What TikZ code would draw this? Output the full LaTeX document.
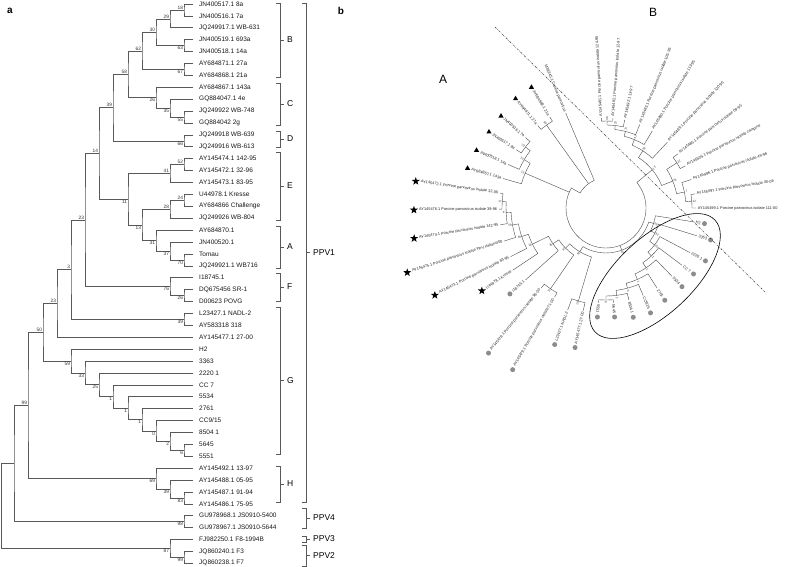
\documentclass[tikz,border=0pt]{standalone}
\usepackage{fontspec}
\setmainfont{Liberation Sans}
\usetikzlibrary{calc,shapes.geometric}
% panel a helpers
\newcommand\pleaf[3]{\coordinate (l#1) at (193,-#2);\node[leaf] (t#1) at (199,-#2) {#3};}
\newcommand\pjn[3]{\draw[tr] (#2) -| (#1) |- (#3);}
\newcommand\pba[2]{\node[bs,anchor=south east] (b#1) at ([xshift=-0.6pt,yshift=0.4pt]#1) {#2};}
\newcommand\pbb[2]{\node[bs,anchor=north east] (b#1) at ([xshift=-0.6pt,yshift=-0.4pt]#1) {#2};}
\newcommand\pcl[5]{\pgfmathsetmacro\pym{-(#3+#4)/2}%
  \draw[brk] (#2-4,-#3) -- (#2,-#3) -- (#2,-#4) -- (#2-4,-#4);
  \draw[brk] (#2,\pym) -- (#2+4,\pym);
  \node[clade] (#1) at (#2+7,\pym) {#5};}
% panel b helpers
\newcommand\ptn[5]{\draw[tb] ($(O)+(#2:#3)$) -- ($(O)+(#2:#1)$) arc[start angle=#2,end angle=#4,radius=#1] -- ($(O)+(#4:#5)$);}
\newcommand\pRL[4]{\node[bl,rotate=#2,anchor=west] (#1) at ($(O)+(#2:#3)$) {#4};}
\newcommand\pLL[4]{\node[bl,rotate=#2-180,anchor=east] (#1) at ($(O)+(#2:#3)$) {#4};}
\newcommand\pMR[4]{\node[#4] (m#1) at ($(#1.east)+(#2:#3)$) {};}
\newcommand\pML[4]{\node[#4] (m#1) at ($(#1.west)+(#2:#3)$) {};}
\newcommand\pbr[4]{\node[bb,rotate=#2] (#1) at ($(O)+(#2:#3)$) {#4};}
\newcommand\pbl[4]{\node[bb,rotate=#2-180] (#1) at ($(O)+(#2:#3)$) {#4};}
\begin{document}
\begin{tikzpicture}[x=1pt,y=1pt,
 tr/.style={draw=black!65,line width=0.6pt},
 leaf/.style={font=\fontsize{6.5}{7}\selectfont,inner sep=0pt,anchor=west,text=black!90},
 bs/.style={font=\fontsize{4.8}{5}\selectfont,inner sep=0.2pt,text=black!80},
 brk/.style={draw=black!65,line width=0.55pt},
 clade/.style={font=\fontsize{8.5}{9}\selectfont,inner sep=0pt,anchor=west},
 tb/.style={draw=black!70,line width=0.4pt},
 bl/.style={font=\fontsize{3.9}{4}\selectfont,inner sep=0.2pt,text=black!85},
 bb/.style={font=\fontsize{3}{3}\selectfont,inner sep=0pt,text=black!80},
 tri/.style={regular polygon,regular polygon sides=3,fill=black,inner sep=0pt,minimum size=6pt},
 starm/.style={star,star points=5,star point ratio=2.5,fill=black,inner sep=0pt,minimum size=8.5pt},
 dotm/.style={circle,fill=black!45,inner sep=0pt,minimum size=5pt},
 dd/.style={draw=black!80,line width=0.45pt,dash pattern=on 2.2pt off 1.2pt on 0.5pt off 1.2pt}]
\fill[white] (0,0) rectangle (787,-567);
\useasboundingbox (0,0) rectangle (787,-567);

% ================= panel a =================
\node[font=\bfseries\fontsize{10}{10}\selectfont,inner sep=0pt] (lbla) at (10,-11) {a};
\pleaf{1}{4.0}{JN400517.1 8a}
\pleaf{2}{15.9}{JN400516.1 7a}
\pleaf{3}{27.8}{JQ249917.1 WB-631}
\pleaf{4}{39.7}{JN400519.1 693a}
\pleaf{5}{51.6}{JN400518.1 14a}
\pleaf{6}{63.5}{AY684871.1 27a}
\pleaf{7}{75.4}{AY684868.1 21a}
\pleaf{8}{87.3}{AY684867.1 143a}
\pleaf{9}{99.2}{GQ884047.1 4e}
\pleaf{10}{111.1}{JQ249922 WB-748}
\pleaf{11}{123.0}{GQ884042 2g}
\pleaf{12}{134.9}{JQ249918 WB-639}
\pleaf{13}{146.8}{JQ249916 WB-613}
\pleaf{14}{158.7}{AY145474.1 142-95}
\pleaf{15}{170.6}{AY145472.1 32-96}
\pleaf{16}{182.5}{AY145473.1 83-95}
\pleaf{17}{194.4}{U44978.1 Kresse}
\pleaf{18}{206.3}{AY684866 Challenge}
\pleaf{19}{218.2}{JQ249926 WB-804}
\pleaf{20}{230.1}{AY684870.1}
\pleaf{21}{242.0}{JN400520.1}
\pleaf{22}{253.9}{Tomau}
\pleaf{23}{265.8}{JQ249921.1 WB716}
\pleaf{24}{277.7}{I18745.1}
\pleaf{25}{289.6}{DQ675456 SR-1}
\pleaf{26}{301.5}{D00623 POVG}
\pleaf{27}{313.4}{L23427.1 NADL-2}
\pleaf{28}{325.3}{AY583318 318}
\pleaf{29}{337.2}{AY145477.1 27-00}
\pleaf{30}{349.1}{H2}
\pleaf{31}{361.0}{3363}
\pleaf{32}{372.9}{2220 1}
\pleaf{33}{384.8}{CC 7}
\pleaf{34}{396.7}{5534}
\pleaf{35}{408.6}{2761}
\pleaf{36}{420.5}{CC9/15}
\pleaf{37}{432.4}{8504 1}
\pleaf{38}{444.3}{5645}
\pleaf{39}{456.2}{5551}
\pleaf{40}{468.1}{AY145492.1 13-97}
\pleaf{41}{480.0}{AY145488.1 05-95}
\pleaf{42}{491.9}{AY145487.1 91-94}
\pleaf{43}{503.8}{AY145486.1 75-95}
\pleaf{44}{515.7}{GU978968.1 JS0910-5400}
\pleaf{45}{527.6}{GU978967.1 JS0910-5644}
\pleaf{46}{539.5}{FJ982250.1 F8-1994B}
\pleaf{47}{551.4}{JQ860240.1 F3}
\pleaf{48}{563.3}{JQ860238.1 F7}

\coordinate (A1) at (184,-9.95);
\coordinate (A2) at (170,-18.88);
\coordinate (A4) at (184,-45.65);
\coordinate (A3) at (156,-32.26);
\coordinate (A6) at (184,-69.45);
\coordinate (A5) at (142,-50.86);
\coordinate (C2) at (184,-117.05);
\coordinate (C1) at (170,-108.13);
\coordinate (C0) at (156,-97.71);
\coordinate (A7) at (128,-74.28);
\coordinate (D0) at (184,-140.85);
\coordinate (A8) at (113,-107.57);
\coordinate (E1) at (184,-164.65);
\coordinate (E0) at (170,-173.58);
\coordinate (E3) at (184,-200.35);
\coordinate (E2) at (170,-209.28);
\coordinate (Q2) at (184,-259.85);
\coordinate (Q1) at (170,-250.93);
\coordinate (Q0) at (156,-240.51);
\coordinate (N13) at (142,-224.90);
\coordinate (N11) at (128,-199.24);
\coordinate (A9) at (99,-153.41);
\coordinate (F1) at (184,-295.55);
\coordinate (F0) at (170,-286.63);
\coordinate (B23) at (85,-220.02);
\coordinate (NA) at (184,-319.35);
\coordinate (N3) at (71,-269.69);
\coordinate (N23) at (57,-303.45);
\coordinate (G8) at (184,-450.25);
\coordinate (G7) at (170,-441.33);
\coordinate (G6) at (156,-430.91);
\coordinate (G5) at (142,-419.76);
\coordinate (G4) at (128,-408.23);
\coordinate (G3) at (113,-396.52);
\coordinate (G2) at (99,-384.71);
\coordinate (G1) at (85,-372.86);
\coordinate (G0) at (71,-360.98);
\coordinate (N50) at (43,-332.22);
\coordinate (Hn2) at (184,-497.85);
\coordinate (H1) at (170,-488.93);
\coordinate (H0) at (156,-478.51);
\coordinate (N99) at (28,-405.37);
\coordinate (GU) at (184,-521.65);
\coordinate (N14) at (14,-463.51);
\coordinate (P2) at (184,-557.35);
\coordinate (P87) at (170,-548.43);
\coordinate (Root) at (1.5,-505.97);

\pjn{A1}{l1}{l2} \pjn{A2}{A1}{l3} \pjn{A4}{l4}{l5} \pjn{A3}{A2}{A4}
\pjn{A6}{l6}{l7} \pjn{A5}{A3}{A6} \pjn{C2}{l10}{l11} \pjn{C1}{l9}{C2}
\pjn{C0}{l8}{C1} \pjn{A7}{A5}{C0} \pjn{D0}{l12}{l13} \pjn{A8}{A7}{D0}
\pjn{E1}{l14}{l15} \pjn{E0}{E1}{l16} \pjn{E3}{l17}{l18} \pjn{E2}{E3}{l19}
\pjn{Q2}{l22}{l23} \pjn{Q1}{l21}{Q2} \pjn{Q0}{l20}{Q1} \pjn{N13}{E2}{Q0}
\pjn{N11}{E0}{N13} \pjn{A9}{A8}{N11} \pjn{F1}{l25}{l26} \pjn{F0}{l24}{F1}
\pjn{B23}{A9}{F0} \pjn{NA}{l27}{l28} \pjn{N3}{B23}{NA} \pjn{N23}{N3}{l29}
\pjn{G8}{l38}{l39} \pjn{G7}{l37}{G8} \pjn{G6}{l36}{G7} \pjn{G5}{l35}{G6}
\pjn{G4}{l34}{G5} \pjn{G3}{l33}{G4} \pjn{G2}{l32}{G3} \pjn{G1}{l31}{G2}
\pjn{G0}{l30}{G1} \pjn{N50}{N23}{G0} \pjn{Hn2}{l42}{l43} \pjn{H1}{l41}{Hn2}
\pjn{H0}{l40}{H1} \pjn{N99}{N50}{H0} \pjn{GU}{l44}{l45} \pjn{N14}{N99}{GU}
\pjn{P2}{l47}{l48} \pjn{P87}{l46}{P2} \pjn{Root}{N14}{P87}

\pba{A1}{18} \pba{A2}{29} \pba{A3}{30} \pbb{A4}{63} \pba{A5}{62} \pbb{A6}{67}
\pba{A7}{58} \pbb{C0}{26} \pbb{C1}{35} \pbb{C2}{55} \pba{A8}{39} \pbb{D0}{66}
\pba{A9}{14} \pba{E1}{52} \pba{E0}{41} \pba{E3}{24} \pba{E2}{28} \pbb{N11}{11}
\pbb{N13}{13} \pbb{Q0}{31} \pbb{Q1}{37} \pbb{Q2}{70} \pba{B23}{23} \pbb{F0}{76}
\pbb{F1}{26} \pba{N3}{3} \pbb{NA}{39} \pba{N23}{23} \pba{N50}{50} \pbb{G0}{59}
\pbb{G1}{33} \pbb{G2}{25} \pbb{G3}{1} \pbb{G4}{1} \pbb{G5}{1} \pbb{G6}{0}
\pbb{G7}{2} \pbb{G8}{6} \pbb{H0}{69} \pbb{H1}{39} \pbb{Hn2}{83} \pba{N99}{99}
\pbb{GU}{98} \pbb{P87}{87} \pbb{P2}{99}

\pcl{kB}{280}{3}{77}{B}
\pcl{kC}{280}{83}{125}{C}
\pcl{kD}{280}{131}{147}{D}
\pcl{kE}{280}{152}{220}{E}
\pcl{kA}{280}{226}{268}{A}
\pcl{kF}{280}{273}{301}{F}
\pcl{kG}{280}{307}{454}{G}
\pcl{kH}{280}{466}{502}{H}
\pcl{kP1}{306}{3}{502}{PPV1}
\pcl{kP4}{306}{508}{528}{PPV4}
\pcl{kP3}{306}{536}{542}{PPV3}
\pcl{kP2}{306}{545}{566}{PPV2}

% ================= panel b =================
\node[font=\bfseries\fontsize{10}{10}\selectfont,inner sep=0pt] (lblb) at (341,-11) {b};
\node[font=\fontsize{12}{12}\selectfont,inner sep=0pt] (regA) at (443,-79) {A};
\node[font=\fontsize{12}{12}\selectfont,inner sep=0pt] (regB) at (653,-12) {B};
\coordinate (O) at (606,-208);

% B group
\ptn{87}{93}{90}{85.6}{90}
\ptn{83}{89.3}{87}{78}{90}
\ptn{79}{83.65}{83}{68}{90}
\ptn{74}{75.8}{79}{59}{90}
\ptn{68}{67.4}{74}{47}{90}
\ptn{84}{37}{90}{28}{90}
\ptn{86}{9}{90}{0}{90}
\ptn{80}{18.5}{90}{4.5}{86}
\ptn{72}{32.5}{84}{11.5}{80}
\ptn{60}{57.2}{68}{22}{72}
% root and main arcs
\draw[tb] ($(O)+(113:103)$) -- ($(O)+(113:30)$) arc[start angle=113,end angle=150,radius=30] -- ($(O)+(150:40)$) arc[start angle=150,end angle=399.6,radius=40] -- ($(O)+(399.6:60)$);
\draw[tb] ($(O)+(125.65:30)$) -- ($(O)+(125.65:102)$);
\draw[tb] ($(O)+(156.7:40)$) -- ($(O)+(156.7:88)$);
\draw[tb] ($(O)+(290.5:40)$) -- ($(O)+(290.5:45)$);
% A group
\ptn{102}{121.7}{107}{129.6}{107}
\ptn{101}{138.8}{107}{147}{107}
\ptn{95}{142.9}{101}{156}{107}
\ptn{88}{149.45}{95}{164}{107}
% stars
\ptn{104}{172}{107}{180.6}{107}
\ptn{100}{176.3}{104}{189}{107}
\ptn{95}{182.65}{100}{198}{107}
\ptn{89}{190.3}{95}{207}{107}
\ptn{82}{198.7}{89}{213.7}{112}
% circles
\ptn{98}{231}{103}{240}{103}
\ptn{97}{249.4}{109}{257.5}{105}
\ptn{64}{206.2}{82}{221.8}{108}
\ptn{57}{214}{64}{235.5}{98}
\ptn{51}{224.75}{57}{253.45}{97}
\ptn{45}{239.1}{51}{341.9}{50}
% G ladder
\ptn{92}{265.5}{95}{274.5}{95}
\ptn{88}{270}{92}{284}{95}
\ptn{83}{277}{88}{293}{95}
\ptn{78}{285}{83}{302.5}{95}
\ptn{72}{293.75}{78}{314}{95}
\ptn{66}{303.9}{72}{323}{95}
\ptn{61}{313.45}{66}{332}{95}
\ptn{55}{322.7}{61}{343}{95}
\ptn{50}{332.85}{55}{351}{89}

% leaf labels
\pRL{pb1}{0}{91.5}{AY145499.1 Porcine parvovirus isolate 111-00}
\pRL{pb2}{9}{91.5}{AY145497.1 Porcine parvovirus isolate 40-06}
\pRL{pb3}{18.5}{91.5}{AY145496.1 Porcine parvovirus isolate 49-96}
\pRL{pb4}{28}{91.5}{AY145505.1 Porcine parvovirus isolate campine}
\pRL{pb5}{37}{91.5}{AY145485.1 Porcine parvovirus isolate 09-95}
\pRL{pb6}{47}{91.5}{AY145489.1 Porcine parvovirus isolate 120-95}
\pRL{pb7}{59}{91.5}{AY145490.1 Porcine parvovirus isolate 113-95}
\pRL{pb8}{68}{91.5}{AY145483.1 Porcine parvovirus isolate 105-95}
\pRL{pb9}{78}{91.5}{AY145492.1 13-97}
\pRL{pb10}{85.6}{91.5}{AY145482.1 Porcine parvovirus isolate 12-97}
\pRL{pb11}{93}{91.5}{AY145481.1 Porcine parvovirus isolate 124-95}
\pLL{pcv}{113}{104.5}{M38245.1 Canine parvovirus}
\pLL{pa1}{121.7}{108.5}{AY684868.1 21a}\pML{pa1}{121.7}{3.8}{tri}
\pLL{pa2}{129.6}{108.5}{AY684871.1 27a}\pML{pa2}{129.6}{3.8}{tri}
\pLL{pa3}{138.8}{108.5}{JN400516.1 7a}\pML{pa3}{138.8}{3.8}{tri}
\pLL{pa4}{147}{108.5}{JN400517.1 8a}\pML{pa4}{147}{3.8}{tri}
\pLL{pa5}{156}{108.5}{JN400518.1 14a}\pML{pa5}{156}{3.8}{tri}
\pLL{pa6}{164}{108.5}{AY684867.1 143a}\pML{pa6}{164}{3.8}{tri}
\pLL{ps1}{172}{108.5}{AY145472.1 Porcine parvovirus isolate 32-96}\pML{ps1}{172}{4.8}{starm}
\pLL{ps2}{180.6}{108.5}{AY145476.1 Porcine parvovirus isolate 39-96}\pML{ps2}{180.6}{4.8}{starm}
\pLL{ps3}{189}{108.5}{AY145474.1 Porcine parvovirus isolate 142-95}\pML{ps3}{189}{4.8}{starm}
\pLL{ps4}{198}{108.5}{AY145475.1 Porcine parvovirus isolate PPV Italiano/00}\pML{ps4}{198}{4.8}{starm}
\pLL{ps5}{207}{108.5}{AY145473.1 Porcine parvovirus isolate 83-95}\pML{ps5}{207}{4.8}{starm}
\pLL{ps6}{213.7}{113.5}{U44978.1 Kresse}\pML{ps6}{213.7}{4.8}{starm}
\pLL{pi1}{221.8}{109.5}{I18745.1}\pML{pi1}{221.8}{3.4}{dotm}
\pLL{pi2}{231}{104.5}{AY145478.1 Porcine parvovirus isolate 96-00}\pML{pi2}{231}{3.4}{dotm}
\pLL{pi3}{240}{104.5}{AY145479.1 Porcine parvovirus isolate 71-00}\pML{pi3}{240}{3.4}{dotm}
\pLL{pi4}{249.4}{110.5}{L23427.1 NADL-2}\pML{pi4}{249.4}{3.4}{dotm}
\pLL{pi5}{257.5}{106.5}{AY145477.1 27-00}\pML{pi5}{257.5}{3.4}{dotm}
\pRL{pg1}{265.5}{96.5}{5551}\pMR{pg1}{265.5}{3.4}{dotm}
\pRL{pg2}{274.5}{96.5}{5645}\pMR{pg2}{274.5}{3.4}{dotm}
\pRL{pg3}{284}{96.5}{8504 1}\pMR{pg3}{284}{3.4}{dotm}
\pRL{pg4}{293}{96.5}{CC9/15}\pMR{pg4}{293}{3.4}{dotm}
\pRL{pg5}{302.5}{96.5}{2761}\pMR{pg5}{302.5}{3.4}{dotm}
\pRL{pg6}{314}{96.5}{5534}\pMR{pg6}{314}{3.4}{dotm}
\pRL{pg7}{323}{96.5}{CC 7}\pMR{pg7}{323}{3.4}{dotm}
\pRL{pg8}{332}{96.5}{2220 1}\pMR{pg8}{332}{3.4}{dotm}
\pRL{pg9}{343}{96.5}{3363}\pMR{pg9}{343}{3.4}{dotm}
\pRL{pg10}{351}{90.5}{H2}\pMR{pg10}{351}{3.4}{dotm}

% bootstrap values panel b
\pbr{nB1}{89.3}{89.5}{38}
\pbr{nB2}{83.65}{85.5}{23}
\pbr{nB3}{75.8}{81.5}{71}
\pbr{nB4}{67.4}{76.5}{41}
\pbr{nB5}{57.2}{70.5}{92}
\pbr{nB6}{39.6}{62.5}{13}
\pbr{nBp}{32.5}{86.5}{22}
\pbr{nBq1}{4.5}{88.5}{12}
\pbr{nBq2}{11.5}{82.5}{7}
\pbr{nBq3}{22}{74.5}{44}
\pbr{nG8}{270}{94}{6}
\pbr{nG7}{277}{90.5}{2}
\pbr{nG6}{285}{85.5}{0}
\pbr{nG5}{293.75}{80.5}{1}
\pbr{nG4}{303.9}{74.5}{1}
\pbr{nG3}{313.45}{68.5}{1}
\pbr{nG2}{322.7}{63.5}{25}
\pbr{nG1}{332.85}{57.5}{33}
\pbr{nG0}{341.9}{52.5}{59}
\pbr{nM2}{290.5}{47.5}{12}
\pbl{nA1}{125.65}{104.5}{59}
\pbl{nA2}{142.9}{103.5}{22}
\pbl{nA3}{149.45}{97.5}{13}
\pbl{nA4}{156.7}{90.5}{12}
\pbl{nS1}{176.3}{106.2}{17}
\pbl{nS2}{182.65}{102.5}{9}
\pbl{nS3}{190.3}{97.5}{59}
\pbl{nS4}{198.7}{91.5}{48}
\pbl{nS5}{206.2}{84.5}{26}
\pbl{nC1}{214}{66.5}{36}
\pbl{nC2}{224.75}{59.5}{37}
\pbl{nC3}{239.1}{53.5}{32}
\pbl{nI2}{235.5}{100.5}{11}
\pbl{nI3}{253.45}{99.5}{18}

% dash-dot separator and ellipse
\coordinate (d1) at (495,-27);
\coordinate (d2) at (765,-292);
\draw[dd] (d1) -- (d2);
\coordinate (Ec) at (655,-276);
\draw[line width=0.6pt,rotate around={43:(Ec)}] (Ec) ellipse [x radius=82,y radius=38];
\end{tikzpicture}
\end{document}
